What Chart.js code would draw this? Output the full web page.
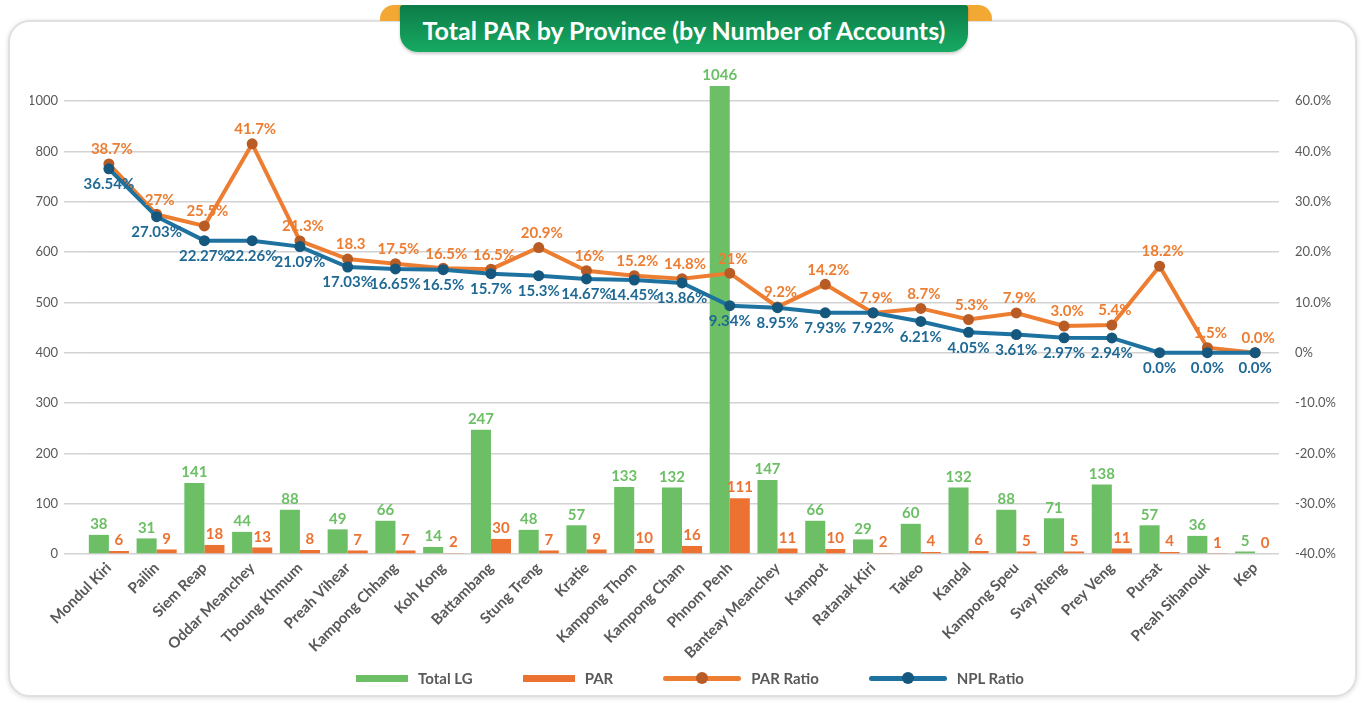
<!DOCTYPE html>
<html>
<head>
<meta charset="utf-8">
<title>Total PAR by Province</title>
<script src="https://cdn.jsdelivr.net/npm/chart.js@4.4.0/dist/chart.umd.min.js"></script>
<style>
    html, body { margin: 0; padding: 0; background: #fff; }
    body { width: 1362px; height: 704px; position: relative; overflow: hidden; font-family: Lato, 'Noto Sans', sans-serif; }
    .card { position: absolute; left: 8px; top: 20px; width: 1345px; height: 673px; border: 2px solid #e0e0e0; border-radius: 22px; box-shadow: 0 1px 5px rgba(0,0,0,0.14); background: #fff; }
    .ear { position: absolute; top: 5px; width: 40px; height: 16px; background: #F2A833; border-radius: 14px 14px 0 0; }
    .banner { position: absolute; left: 400px; top: 5px; width: 568px; height: 47px; background: linear-gradient(#0d7b47, #17aa63); border-radius: 3px 3px 18px 18px; color: #fff; font-weight: bold; font-size: 25px; text-align: center; line-height: 51px; box-shadow: 0 2px 3px rgba(0,0,0,0.2); }
    #wrap { position: absolute; left: 0; top: 0; width: 1362px; height: 704px; }
    .legend { position: absolute; left: 18px; right: 0; top: 668px; height: 20px; display: flex; justify-content: center; align-items: center; gap: 50px; font-weight: bold; font-size: 15px; color: #595959; }
    .legend .item { display: flex; align-items: center; gap: 10px; }
    .legend .bar { display: inline-block; width: 52px; height: 7px; }
    .legend .line { display: inline-block; position: relative; width: 78px; height: 5px; border-radius: 3px; }
    .legend .line i { position: absolute; left: 33px; top: -4px; width: 12px; height: 12px; border-radius: 50%; }
</style>
</head>
<body>
<div class="card"></div>
<div class="ear" style="left:380px"></div>
<div class="ear" style="left:952px"></div>
<div class="banner">Total PAR by Province (by Number of Accounts)</div>
<div id="wrap"><canvas id="parChart"></canvas></div>
<div class="legend" id="legend"></div>

<script>
// Datos del gráfico
const provinces = ['Mondul Kiri', 'Pailin', 'Siem Reap', 'Oddar Meanchey', 'Tboung Khmum', 'Preah Vihear',
    'Kampong Chhang', 'Koh Kong', 'Battambang', 'Stung Treng', 'Kratie', 'Kampong Thom', 'Kampong Cham',
    'Phnom Penh', 'Banteay Meanchey', 'Kampot', 'Ratanak Kiri', 'Takeo', 'Kandal', 'Kampong Speu',
    'Svay Rieng', 'Prey Veng', 'Pursat', 'Preah Sihanouk', 'Kep'];
const totalLG = [38, 31, 141, 44, 88, 49, 66, 14, 247, 48, 57, 133, 132, 1046, 147, 66, 29, 60, 132, 88, 71, 138, 57, 36, 5];
const parCount = [6, 9, 18, 13, 8, 7, 7, 2, 30, 7, 9, 10, 16, 111, 11, 10, 2, 4, 6, 5, 5, 11, 4, 1, 0];
const parRatio = [37.5, 27.5, 25.2, 41.5, 22.2, 18.6, 17.7, 16.8, 16.6, 20.9, 16.3, 15.3, 14.7, 15.8, 9.1, 13.6, 7.9, 8.8, 6.6, 7.9, 5.3, 5.5, 17.2, 1.0, 0];
const parRatioLabels = ['38.7%', '27%', '25.5%', '41.7%', '21.3%', '18.3', '17.5%', '16.5%', '16.5%', '20.9%', '16%', '15.2%',
    '14.8%', '21%', '9.2%', '14.2%', '7.9%', '8.7%', '5.3%', '7.9%', '3.0%', '5.4%', '18.2%', '1.5%', '0.0%'];
const nplRatio = [36.54, 27.03, 22.27, 22.26, 21.09, 17.03, 16.65, 16.5, 15.7, 15.3, 14.67, 14.45, 13.86, 9.34, 8.95, 7.93, 7.92, 6.21, 4.05, 3.61, 2.97, 2.94, 0, 0, 0];

// Ejes (valores y etiquetas tal como aparecen)
const countTicks = [0, 100, 200, 300, 400, 500, 600, 700, 800, 900];
const countTickLabels = ['0', '100', '200', '300', '400', '500', '600', '700', '800', '1000'];
const ratioTicks = [-40, -30, -20, -10, 0, 10, 20, 30, 40, 50];
const ratioTickLabels = ['-40.0%', '-30.0%', '-20.0%', '-10.0%', '0%', '10.0%', '20.0%', '30.0%', '40.0%', '60.0%'];

const Colors = {
    green: '#6CBF65',
    orangeBar: '#EC7232',
    parLine: '#ED7D31',
    parPoint: '#B95B25',
    nplLine: '#1E72A0',
    nplPoint: '#16577E',
    nplText: '#1F6995',
    grid: '#d2d2d2',
    text: '#595959'
};
const FONT = "Lato, 'Noto Sans', sans-serif";

// Etiquetas de valores (sin plugin externo)
const valueLabels = {
    id: 'valueLabels',
    afterDatasetsDraw(chart) {
        const ctx = chart.ctx;
        const area = chart.chartArea;
        ctx.save();
        ctx.font = 'bold 15px ' + FONT;
        ctx.textAlign = 'center';
        chart.data.datasets.forEach((ds, di) => {
            const meta = chart.getDatasetMeta(di);
            ctx.fillStyle = ds.labelColor;
            meta.data.forEach((el, i) => {
                const text = ds.labelTexts[i];
                if (meta.type === 'bar') {
                    ctx.textBaseline = 'bottom';
                    ctx.fillText(text, el.x, Math.max(el.y, area.top) - 3);
                } else if (ds.labelPos === 'above') {
                    ctx.textBaseline = 'bottom';
                    ctx.fillText(text, el.x + 3, el.y - 7);
                } else {
                    ctx.textBaseline = 'top';
                    ctx.fillText(text, el.x, el.y + 8);
                }
            });
        });
        ctx.restore();
    }
};

const pct = v => (v === 0 ? '0.0%' : v + '%');

const datasets = [
    {
        type: 'line', label: 'PAR Ratio', data: parRatio, yAxisID: 'y1', order: 1,
        borderColor: Colors.parLine, borderWidth: 4, pointRadius: 5.5, pointBackgroundColor: Colors.parPoint,
        pointBorderWidth: 0, tension: 0,
        labelTexts: parRatioLabels, labelColor: Colors.parLine, labelPos: 'above'
    },
    {
        type: 'line', label: 'NPL Ratio', data: nplRatio, yAxisID: 'y1', order: 0,
        borderColor: Colors.nplLine, borderWidth: 4, pointRadius: 5.5, pointBackgroundColor: Colors.nplPoint,
        pointBorderWidth: 0, tension: 0,
        labelTexts: nplRatio.map(pct), labelColor: Colors.nplText, labelPos: 'below'
    },
    {
        type: 'bar', label: 'Total LG', data: totalLG, yAxisID: 'y', order: 2,
        backgroundColor: Colors.green, categoryPercentage: 0.84, barPercentage: 1.0,
        labelTexts: totalLG.map(String), labelColor: Colors.green
    },
    {
        type: 'bar', label: 'PAR', data: parCount, yAxisID: 'y', order: 2,
        backgroundColor: Colors.orangeBar, categoryPercentage: 0.84, barPercentage: 1.0,
        labelTexts: parCount.map(String), labelColor: Colors.orangeBar
    }
];

const chart = new Chart(document.getElementById('parChart'), {
    data: { labels: provinces, datasets: datasets },
    plugins: [valueLabels],
    options: {
        responsive: true,
        maintainAspectRatio: false,
        animation: false,
        layout: { padding: { left: 30, right: 0, top: 86, bottom: 0 } },
        plugins: { legend: { display: false }, tooltip: { enabled: false } },
        scales: {
            x: {
                grid: { display: false, drawTicks: false },
                border: { display: false },
                ticks: {
                    autoSkip: false, minRotation: 45, maxRotation: 45, padding: 5,
                    color: Colors.text, font: { family: FONT, size: 15, weight: 'bold' }
                },
                afterFit: s => { s.height = 150; }
            },
            y: {
                position: 'left', min: 0, max: 930,
                afterBuildTicks: s => { s.ticks = countTicks.map(v => ({ value: v })); },
                grid: { color: Colors.grid, lineWidth: 1.5, drawTicks: true, tickLength: 21, tickColor: Colors.grid },
                border: { display: false },
                ticks: {
                    padding: 6, color: Colors.text, font: { family: FONT, size: 13 },
                    callback: (v, i) => countTickLabels[i]
                },
                afterFit: s => { s.width = 55; }
            },
            y1: {
                position: 'right', min: -40, max: 53,
                afterBuildTicks: s => { s.ticks = ratioTicks.map(v => ({ value: v })); },
                grid: { drawOnChartArea: false, drawTicks: false },
                border: { display: false },
                ticks: {
                    padding: 16, color: Colors.text, font: { family: FONT, size: 13 },
                    callback: (v, i) => ratioTickLabels[i]
                },
                afterFit: s => { s.width = 83; }
            }
        }
    }
});

// Leyenda en HTML
const legendEl = document.getElementById('legend');
[datasets[2], datasets[3], datasets[0], datasets[1]].forEach(ds => {
    const item = document.createElement('div');
    item.className = 'item';
    const sw = document.createElement('span');
    if (ds.type === 'bar') {
        sw.className = 'bar';
        sw.style.background = ds.backgroundColor;
    } else {
        sw.className = 'line';
        sw.style.background = ds.borderColor;
        const dot = document.createElement('i');
        dot.style.background = ds.pointBackgroundColor;
        sw.appendChild(dot);
    }
    const txt = document.createElement('span');
    txt.textContent = ds.label;
    item.appendChild(sw);
    item.appendChild(txt);
    legendEl.appendChild(item);
});
</script>
</body>
</html>
